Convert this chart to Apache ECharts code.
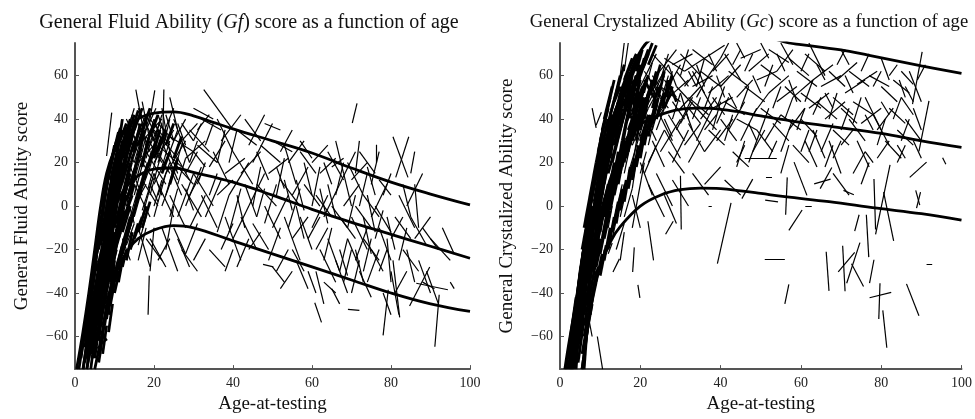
<!DOCTYPE html>
<html>
<head>
<meta charset="utf-8">
<script src="https://cdn.jsdelivr.net/npm/echarts@6/dist/echarts.min.js"></script>
<style>
  html, body { margin: 0; padding: 0; background: #fff; }
  #chart { width: 975px; height: 419px; }
</style>
</head>
<body>
<div id="chart"></div>
<script>
// tick values
const xTicks = [0, 20, 40, 60, 80, 100]
const yTicks = [-60, -40, -20, 0, 20, 40, 60]

// Gf: the three thick curves
const gfUpper = [[0.4,-75],[2,-58],[3.5,-40],[5,-20],[6.5,0],[8,15],[10,26],[12,33],[15,39],[20,42.7],[25,43.3],[30,41.5],[35,38.5],[40,35.5],[50,30],[60,24.4],[70,17.5],[80,11],[90,5.5],[100,0.5]]
const gfMiddle = [[2.1,-75],[4,-50],[6,-28],[7.5,-15],[9,-5],[11,3],[13,9],[16,14],[20,17],[25,17.5],[30,15.5],[40,11],[50,5],[60,-1.5],[70,-7.5],[80,-13],[90,-18.5],[100,-24]]
const gfLower = [[5,-75],[6.7,-60],[8.9,-40],[11,-28],[13.5,-20],[16,-15],[20,-11],[25,-9],[30,-10],[40,-16],[50,-22],[60,-28],[70,-34],[80,-40],[90,-45],[100,-48.5]]

// Gf: childhood segments [age1, score1, age2, score2] (the dense wedge)
const gfChildSegments = [
  [2,-75,5,-40],[3,-75,6,-35],[3.5,-70,6,-45],[4,-75,7,-30],[5,-60,8,-20],[5,-50,8,-10],[5.5,-45,9,0],[6,-62,9,-20],
  [6,-40,9,-5],[6.5,-30,10,5],[6,-20,9,10],[7,-35,10,-5],[7,-25,11,10],[7,-15,10,15],[7.5,-45,10,-15],[8,-30,11,5],
  [8,-20,12,15],[8,-10,12,20],[8.5,-50,10,-25],[9,-35,12,0],[9,-5,13,25],[9,5,12,30],[9.5,-20,13,10],
  [10,-10,14,20],[10,0,14,30],[10,15,13,35],[10.5,-28,14,-5],[11,5,15,30],[11,-15,15,10],[11.5,20,14,38],
  [6.5,-58,8,-62],[7,-55,9,-40],[6,-50,7,-30],[7.5,-30,9,-10],[8,0,10,20],[9,12,11,28],[10.5,22,12,40],
  [1,-75,3,-50],[1.5,-70,4,-40],[2.5,-65,5,-30],[3,-55,5.5,-25],[3.5,-48,6,-15],[4,-40,6.5,-8],[4.5,-35,7,-2],[5,-28,7.5,5],
  [5.5,-22,8,10],[6,-15,8.5,15],[6.5,-8,9,20],[7,0,9.5,22],[7.5,5,10,28],[8,10,10.5,30],[8.5,15,11,34],[9,20,11.5,36],
  [4,-60,6,-38],[4.5,-52,7,-25],[5,-45,7.5,-20],[5.5,-38,8,-12],[6,-32,8.5,-5],[6.5,-25,9,-2],[7,-20,9.5,5],[7.5,-12,10,10],
  [8,-5,10.5,15],[8.5,0,11,18],[9,-12,11.5,10],[9.5,5,12,25],[10,10,12.5,30],[10.5,15,13,33],[11,18,13.5,36],[11.5,25,14,40],
  [6,-48,8,-32],[6.5,-42,9,-22],[7,-38,9.5,-18],[7.5,-35,10,-12],[8,-38,10.5,-20],[8.5,-30,11,-8],
  [9,-28,11.5,-12],[9.5,-25,12,-5],[10,-20,12.5,-2],[10.5,-12,13,5],[11,-8,13.5,12],[11.5,-2,14,15],
  [5,-70,6.5,-50],[3,-75,4.5,-60],[7,-60,8,-45],[8,-52,9.5,-32],[10,-35,11,-30],
  [3,-70,5,-50],[4,-68,6,-48],[5,-65,7,-45],[6,-58,8,-40],[6.5,-50,8.5,-35],[7,-45,9,-30],[7.5,-40,9.5,-25],[8,-35,10,-22],
  [8.5,-28,10.5,-15],[9,-22,11,-10],[9.5,-18,11.5,-5],[10,-15,12,-2],[10.5,-8,12.5,2],[11,-3,13,8],[11.5,2,13.5,12],
  [12,-12,14,0],[12.5,-5,14.5,5],[13,3,15,12],[13.5,5,15.5,18],[14,10,16,22],[5.5,-55,7.5,-35],[6.5,-35,8,-25],
  [7,-30,8.5,-15],[7.5,-22,9,-8],[8,-15,9.5,-2],[8.5,-8,10,5],[9,-2,10.5,10],[9.5,2,11,15],[10,8,11.5,20],[10.5,12,12,25],
  [11,15,12.5,28],[11.5,10,13,22],[12,15,13.5,28],[12.5,18,14,32],[13,22,14.5,35],[13.5,25,15,38],[14,28,15.5,40],
  [15,25,16.5,38],[16,22,17.5,35],[17,18,18.5,30],[4.5,-70,5.5,-58],[3.5,-62,5,-45],
  [8,-45,10,-30],[8.5,-42,10.5,-28],[9,-40,11,-25],[9.5,-38,11.5,-22],[10,-33,12,-18],[10.5,-30,12.5,-15],[11,-27,13,-12],
  [11.5,-25,13.5,-10],[12,-22,14,-8],[12.5,-18,14.5,-5],[13,-15,15,-2],[9,-45,10,-35],[8.5,-58,9.5,-45],[7.5,-55,8.5,-42],
  [7,-68,8,-55],[6,-72,7,-60],[10,-40,11.5,-28],[11,-35,12,-25],[12,-28,13,-20],[13,-25,14.5,-12],[14,-20,16,-8],
  [15,-15,17,-5],[16,-12,18,0],[17,-10,19,2],[14.5,-5,16.5,8],[15.5,2,17.5,15],[16.5,8,18.5,20],[17.5,12,19.5,25],
  [18.5,18,20.5,30],[19.5,22,21.5,35],[13,30,15,42],[14,32,16,44],[15,35,17,45],[16,28,18,40],[17,35,19,45],[18,28,20,38],
  [19,32,21,42],[20,22,22,32],[21,25,23,35],[22,15,24,25],[23,28,25,38],[24,10,26,22],[25,22,27,32],[10,25,12,35],
  [11,28,13,38],[12,22,14,34],[9.5,15,11,25],[8.5,5,10,18],[7.5,-5,9,8],[6.5,-18,8,-5],[5.5,-30,7,-18],[4.5,-45,6,-30],
  [3.5,-58,5,-42],[2.5,-72,4,-55]
]

// Gf: later segments
const gfSegments = [
  [9.3,43,8,23],[5,-63,6,-66],[12,-5,16,25],[12,10,16,35],[12.5,-20,16,5],[13,0,17,28],[13,25,17,45],[13.5,15,18,40],
  [14,-10,18,15],[14,5,18,32],[15,20,19,45],[12,28,14.5,42],[12.5,30,15,45],[12,2,14.5,20],[12.5,8,15,25],
  [13,12,15.5,28],[13.5,-8,16,8],[14,20,16.5,35],[14.5,25,17,38],[15,5,17.5,22],[15.5,12,18,28],[16,32,18.5,42],[16.5,18,19,30],
  [17,-2,19.5,12],[17.5,25,20,40],[18,35,20.5,45],[18.5,8,21,25],[19,28,21.5,38],
  [12,-15,14,-25],[13,-18,15,-8],[16,-18,18,-5],[17,8,19,18],[19,10,21,2],[20,30,22,42],
  [20,0,22,12],[21,20,23,32],[22,25,24,40],[23,5,25,18],[24,-5,26,8],[25,15,27,28],[26,10,28,22],[27,30,29,20],
  [28,8,30,-2],[29,20,31,30],[30,30,32,38],[31,10,33,20],[33,28,35,38],[34,5,36,15],
  [12,30,15,20],[13,22,16,40],[14,35,17,25],[15,15,18,35],[16,38,19,25],[17,20,20,12],[18,42,21,30],[19,18,22,38],
  [20,40,23,25],[21,5,24,20],[22,32,25,45],[23,20,26,35],[24,18,27,5],[25,30,28,40],[26,22,29,12],[27,38,30,30],
  [28,15,31,25],[29,5,32,15],[30,25,33,18],[31,35,34,42],[12,18,14,30],[14,12,16,22],[16,5,18,18],[18,22,20,35],
  [20,15,22,5],[22,18,24,30],[24,25,26,15],[26,38,28,28],[13,5,15,-8],[15,-5,17,8],[17,30,19,42],[19,35,21,25],
  [21,42,23,32],[23,42,25,30],
  [15.4,53.6,17.3,35],[20.2,53.2,18.8,38],[22.5,53.6,22.2,29],[16,45,20,30],[17,30,22,40],[18,25,23,10],[18,15,21,35],
  [19,40,24,28],[19,5,22,25],[20,20,25,35],[20,-5,23,15],[20,35,26,22],[21,10,25,-5],[21,28,27,18],[22,45,24,25],
  [22,0,26,20],[23,15,28,30],[23,-20,25,0],[24,32,30,25],[24,5,28,-10],[25,20,30,10],[25,40,28,25],[26,-5,30,15],
  [26,28,31,38],[27,10,32,-5],[27,-20,31,-30],[28,22,33,30],[28,0,32,18],[29,35,34,25],[29,-10,33,5],[30,15,35,0],
  [30,-25,33,-15],[31,28,36,20],[32,5,36,-10],[32,40,37,35],[33,-5,37,12],[34,18,38,30],[34,-20,38,-28],[35,25,39,10],
  [16,-10,19,-28],[17,-5,20,15],[18,-15,22,-25],[19,-30,20,-10],[15,10,19,-5],[17,48,19,30],[14,30,18,20],[13,40,16,28],
  [24,50,26,35],[21,-25,24,-15],[26,-15,29,-28],[28,-22,31,-8],[32.6,53.6,40,35],[30,45,35,40],[25,-10,28,-22],
  [22,-10,26,-30],[19,-15,23,-28],[16,-25,18,-10],[18.8,-32,18.5,-50],[16,20,20,28],[18,32,22,20],[20,10,24,25],
  [17,12,21,0],[15,30,18,42],[21,38,25,30],[23,25,26,12],[19,22,23,32],[15,0,18,10],[14,18,17,5],[20,28,24,15],
  [36,40,40,25],[37,30,42,42],[38,15,43,22],[38,-5,42,-25],[39,5,44,20],[40,25,45,10],[40,-15,44,0],[41,35,46,28],
  [42,-5,46,-20],[42,15,47,25],[43,40,47,30],[44,0,48,15],[44,-20,47,-12],[45,20,50,38],[45,-8,49,-20],[46,10,51,0],
  [47,28,52,20],[47,-20,50,-22],[48,0,52,-15],[49,15,54,22],[50,30,55,25],[50,-10,54,5],[51,-30,54,-20],[52,12,57,0],
  [53,-5,57,-25],[53,28,56,10],[54,20,58,30],[55,-15,59,-5],[55,5,59,18],[56,-25,59,-38],[57,25,61,15],[57,-5,60,-20],
  [58,10,62,0],[59,-30,61,-40],[47.6,-26.8,50.2,-28],[38,-30,40,-20],[41,-28,44,-15],[36,-12,39,5],[48,38,52,35],
  [44,28,48,42],[50,-28,53,-35],[52,-38,55,-30],[36,5,40,12],[39,20,41,35],[46,-5,48,8],[51,18,53,8],[56,12,58,-2],
  [36,20,38,35],[37,-20,40,-8],[39,-12,42,8],[41,5,43,-10],[43,10,46,-5],[45,0,47,18],[46,25,49,12],[48,-8,51,10],
  [49,-25,52,-10],[51,5,53,22],[52,25,55,35],[54,-10,57,8],[56,0,58,-15],[58,20,60,5],[59,-15,62,-5],[60,0,62,18],
  [61,-20,64,-10],[62,8,64,-8],[63,-25,65,-10],[64,10,66,-5],[66,5,68,20],[67,-30,69,-15],[68,15,70,0],[69,-10,71,5],
  [71,-20,73,-35],[72,0,74,15],[73,-30,75,-15],[74,5,76,-12],[75,10,77,25],[76,-15,78,-2],[77,-30,79,-20],[78,5,80,15],
  [79,-5,81,-20],[80,-15,83,-5],[82,-25,84,-10],[84,-20,86,-35],[85,15,86,25],[55,-20,58,-30],[53,12,55,-2],[57,30,60,22],
  [60,20,64,28],[60,-10,64,5],[61,-30,63,-45],[61,5,65,-5],[62,15,66,22],[62,-20,66,-35],[63,-5,67,10],[64,25,68,12],
  [64,-15,67,-30],[65,0,69,-10],[65,18,68,22],[66,-25,69,-40],[66,30,68,15],[67,-5,71,-15],[67,10,71,25],[68,-35,70,-20],
  [68,0,72,10],[69,-15,72,-28],[69,20,73,5],[70,-40,72,-25],[70,-5,74,-20],[70,12,74,20],[71,-25,74,-10],[71,0,75,-10],
  [72,25,76,15],[72,-30,75,-42],[73,5,77,-5],[73,-15,77,-25],[74,18,76,5],[74,-35,77,-20],[75,-5,79,10],[75,-20,78,-30],
  [76.3,28.2,76.3,19.9],[76,0,80,-12],[77,-10,80,-25],[77,12,80,5],[78,-59.5,79.3,-38.5],[70.2,38.2,71.4,47.2],
  [60.7,-44.5,62.4,-53.5],[69.1,-47.5,72,-48],[63,-35,66,-40],[65,-38,67,-45],[78,-40,80,-50],[79,-15,80,-35],
  [63,20,65,10],[67,-20,69,-32],[71,15,72,30],[73,-5,75,-22],
  [80.5,31.9,84.3,13.2],[84.5,31.9,81.2,13.2],[82.2,-51.2,80.5,-25],[84.7,-46,89.8,-28],[86.4,-35.5,94.4,-38.5],
  [91.1,-64.7,92.2,-40.8],[81,-5,85,-15],[82,5,86,-10],[83,-20,87,-30],[84,0,88,15],[85,-5,89,-18],[86,-15,90,-5],
  [87,-25,90,-40],[88,-10,92,-20],[89,-30,92,-45],[90,-15,95,-25],[81,-40,84,-30],[83,10,85,-5],[86,10,87,-10],
  [88,-35,91,-38],[80,-30,82,-50],[93,-10,96,-22],[95,-35,96,-38]
]

// Gc: the three thick curves
const gcUpper = [[1.2,-75],[2.5,-60],[4.5,-40],[7,-20],[8.5,0],[10.3,20],[13.1,40],[17.2,60],[20.4,72.4],[23,77],[30,80],[40,81],[50,78.5],[57,75],[60,74.3],[70,71.8],[77,69.3],[90,64.5],[100,61]]
const gcMiddle = [[3,-75],[5,-50],[7,-30],[9,-12],[11,3],[13,15],[15,24],[17,31],[20,37.5],[25,42],[30,44.5],[35,45],[40,44.5],[44,43.5],[50,41.5],[60,38.5],[70,36],[80,33.4],[90,30],[100,27]]
const gcLower = [[5.5,-75],[7,-55],[8.6,-37],[10,-28],[12.7,-16],[15,-9.5],[20,0],[25,5],[30,7.5],[35,8.2],[40,8],[45,7],[50,5.8],[56,4.3],[67,2],[79,-1],[90,-3.5],[100,-6.5]]

// Gc: childhood segments (the dense wedge)
const gcChildSegments = [
  [2,-75,5,-40],[2.5,-70,5,-30],[3,-75,6,-25],[3,-60,6,-20],[3.5,-75,6,-40],[4,-55,7,-10],[4,-45,7,-5],[4.5,-65,7,-30],
  [5,-40,8,0],[5,-30,8,5],[5,-50,8,-15],[5.5,-20,9,15],[6,-35,9,5],[6,-60,8,-40],[6,-10,9,20],[6.5,-25,10,15],
  [7,-5,10,25],[7,-45,10,-15],[7.5,-15,11,20],[8,5,11,30],[8,-30,11,0],[8.5,-10,12,25],[9,15,12,40],[9,-20,12,10],
  [9.5,0,13,30],[10,20,13,42],[10,-10,14,20],[10.5,10,14,38],[11,25,15,48],[11,-5,15,25],[12,15,16,42],
  [12,35,16,55],[12.5,0,16,30],[13,20,17,50],[14,30,18,55],[14,10,18,40],[15,38,19,60],
  [16,25,20,50],[16,45,20,60],[17,35,21,55],[5.5,-75,7,-55],[7.5,-50,9,-30],[4,-75,4.8,-55],[6,-75,7,-50],
  [13,45,15,60],[14,52,16,65],[17,50,18,62],[18,48,19,60],[19,45,20,62],
  [1.5,-75,3.5,-50],[2,-68,4,-42],[3,-58,5,-35],[3.5,-50,5.5,-25],[4,-45,6,-20],[4.5,-38,6.5,-12],[5,-32,7,-5],[5.5,-25,7.5,0],
  [6,-18,8,8],[6.5,-12,8.5,12],[7,-8,9,18],[7.5,0,9.5,22],[8,8,10,28],[8.5,12,10.5,32],[9,20,11,38],[9.5,25,11.5,42],
  [10,30,12,45],[10.5,35,12.5,50],[11,40,13,55],[11.5,42,13.5,58],[4,-65,6,-45],[4.5,-55,6.5,-30],[5,-48,7,-25],[5.5,-40,7.5,-18],
  [6,-30,8,-10],[6.5,-35,8.5,-8],[7,-25,9,0],[7.5,-20,9.5,5],[8,-15,10,10],[8.5,-5,10.5,15],[9,0,11,22],[9.5,8,11.5,28],
  [10,5,12,30],[10.5,15,12.5,35],[11,10,13,30],[11.5,22,13.5,40],[12,25,14,45],[12.5,30,14.5,48],[13,35,15,52],[13.5,28,15.5,45],
  [14,38,16,55],[15,45,17,58],[15.5,30,17.5,48],[16,50,18,62],[16.5,38,18.5,52],[17,42,19,58],
  [18,52,20,65],[18.5,40,20.5,55],[19,55,21,68],[6,-55,7.5,-40],[7,-40,8.5,-22],[8,-28,9.5,-12],[9,-18,10.5,-2],[10,-12,11.5,5],
  [11,-5,12.5,12],[12,5,13.5,20],[13,8,14.5,25],[14,15,15.5,30],[15,22,16.5,38],[17,25,18.5,40],
  [19,30,20.5,45],[20,35,21.5,50],[21,40,22.5,55],[20,60,22,70],[22,65,24,74],[19,62,20.5,72],[17,56,19,67],
  [14,40,17,52],[15,50,18,40],[16,55,19,45],[17,60,20,50],[18,55,21,65],[19,48,22,60],[20,42,23,55],[21,58,24,48],
  [2.5,-75,4,-55],[3.5,-68,5,-50],[4.5,-72,6,-52],[5,-60,6.5,-42],[6,-50,7.5,-32],[6.5,-45,8,-28],[7,-35,8.5,-18],
  [7.5,-30,9,-12],[8,-22,9.5,-5],[8.5,-18,10,0],[9,-10,10.5,8],[9.5,-5,11,12],[10,0,11.5,18],[10.5,5,12,22],[11,12,12.5,28],
  [11.5,15,13,32],[12,20,13.5,38],[12.5,22,14,40],[13,28,14.5,45],[13.5,32,15,48],[14,35,15.5,50],[14.5,42,16,55],
  [15,48,16.5,60],[15.5,40,17,52],[16,42,17.5,55],[16.5,48,18,60],[17,45,18.5,58],[17.5,50,19,60],[18,42,19.5,55],
  [18.5,48,20,58],[19,38,20.5,50],[19.5,45,21,55],[20,48,21.5,58],[21,45,22.5,55],[22,50,23.5,58],[23,45,24.5,55],
  [12,0,13.5,15],[13,5,14.5,20],[14,12,15.5,25],[15,15,16.5,30],[16,20,17.5,35],[17,28,18.5,42],[18,30,19.5,42],
  [19,35,20.5,45],[9,-28,10.5,-15],[10,-22,11.5,-8],[11,-15,12.5,-2],
  [9,-35,10.5,-22],[10,-32,11.5,-18],[11,-25,12.5,-10],[12,-20,13.5,-5],[13,-12,14.5,2],[14,-8,15.5,8],[15,-2,16.5,12],
  [16,2,17.5,18],[17,8,18.5,22],[18,12,19.5,28],[19,18,20.5,32],[20,22,21.5,38],[21,28,22.5,42],[22,32,23.5,45],
  [23,38,24.5,50],[8,-40,9.5,-28],[7.5,-48,9,-35],[6.5,-60,8,-45],[5.5,-68,7,-52],[10.5,-15,12,0],[11.5,-8,13,8],
  [12.5,-2,14,12],[13.5,5,15,18],[14.5,10,16,25],[15.5,18,17,32],[16.5,22,18,38],[17.5,28,19,42],[18.5,32,20,45],
  [19.5,38,21,50],[20.5,42,22,52],[21.5,48,23,58],[22.5,52,24,62],[23.5,55,25,65],[24.5,50,26,62],[25.5,45,27,58],
  [26.5,50,28,60],[27.5,55,29,48],[15,52,17,62],[16,58,18,68],[17,62,19,70],[18,60,20,70],[20,62,22,72],[21,65,23,75],
  [13.5,48,15,55],[12.5,42,14,52],[11.5,35,13,45],[10.5,28,12,40],[9.5,18,11,32],[8.5,2,10,18],[7.5,-10,9,5],
  [6.5,-22,8,-8],[5.5,-35,7,-20],[4.5,-48,6,-32],[3.5,-60,5,-45],[2.5,-75,3.8,-58],[20,30,22,42],[22,35,24,48],
  [24,40,26,52],[26,45,28,55]
]

// Gc: later segments
const gcSegments = [
  [9.3,-60,10.6,-75],[8,45,9,36],[15,-25,16,-12],[12,-22,13,-17],[11.5,-20,15,5],[13,-15,16,10],[15,-5,18,20],
  [17,15,21,40],[18,-10,21,20],[18,28,22,45],[15,60,16,75],[16,62,17,75],[17,40,20,48],[18,38,21,30],[16,30,19,38],
  [14.5,20,16.5,38],[17.5,30,19.5,45],[7,-50,8,-60],[10,-30,11,-20],[12,-10,13,0],[14,-2,15.5,10],[16,5,17.5,15],
  [18,8,19,20],[20,15,21.5,25],[22,28,23.5,40],[23,35,25,48],[16,15,17.5,28],[18,18,19.5,35],
  [24,50,26,60],[25,58,27,70],
  [22,45,25,55],[23,60,26,52],[24,52,27,45],[25,42,28,52],[26,58,29,50],[27,55,30,65],[28,48,31,40],[29,62,32,55],
  [30,38,33,48],[31,55,34,62],[32,45,35,38],[33,62,36,52],[34,50,37,60],[35,55,38,45],[36,35,39,42],[37,60,40,68],
  [38,50,41,42],[39,38,42,50],[16,35,18,45],[18,30,20,40],[20,28,22,40],[22,38,24,30],[24,35,26,45],[26,40,28,32],
  [20,55,24,70],[20,40,25,58],[21,62,26,48],[21,30,25,45],[22,50,27,65],[22,20,26,35],[23,70,28,60],[23,38,28,52],
  [24,45,28,30],[24,60,29,72],[25,25,30,40],[25,55,30,48],[26,68,31,62],[26,35,30,22],[27,50,32,58],[27,42,31,30],
  [28,65,33,70],[28,20,32,35],[29,55,34,45],[29,35,33,50],[30,70,35,60],[30,45,35,55],[31,28,35,38],[31,62,36,68],
  [32,50,37,42],[32,38,36,25],[33,72,38,65],[33,55,38,60],[34,30,38,45],[34,45,39,35],[35,62,40,55],[35,40,39,50],
  [36,68,41,74],[36,25,40,35],[37,52,42,60],[37,35,41,28],[38,45,43,50],[38,62,42,70],[39,30,43,40],[40,55,45,65],
  [40,40,44,30],[41,70,45,58],[41,48,46,42],[42,35,46,48],[42,62,47,55],[43,25,47,18],[44,50,48,58],[44,40,49,35],
  [45,68,50,72],[45,30,49,45],[46,55,51,48],[47,20,50,35],[47,62,52,70],[48,42,52,52],[49,35,53,25],[49,58,54,62],
  [50,45,55,38],[50,65,55,58],[51,30,55,42],[52,52,57,60],[52,72,57,66],[53,38,57,30],[54,48,59,55],[54,62,58,72],
  [55,25,58,40],[55,42,60,35],[56,55,60,48],[57,68,62,60],[57,35,61,45],[58,50,63,58],[58,28,62,20],[59,62,64,55],
  [60,40,64,32],[60,52,65,45],[61,30,64,18],[61,70,66,62],[62,45,67,52],[63,35,66,22],[63,58,68,65],[64,48,69,40],
  [65,25,68,38],[65,55,70,60],[66,40,71,48],[67,62,71,55],[67,30,70,15],[68,50,73,42],[68,35,72,28],[69,58,74,66],
  [70,45,74,38],[70,28,73,35],[71,52,76,58],[72,40,76,30],[72,62,77,55],[73,48,78,42],[74,30,77,18],[74,56,79,62],
  [75,38,80,45],[76,50,80,35],[77,60,82,55],[78,42,82,28],[79,35,83,45],[80,55,84,48],[81,30,85,22],[82,45,86,38],
  [83,58,87,52],[84,35,88,28],[85,50,88,42],[86,40,90,30],[87,62,90,48],[88,30,90,22],[90.2,70.9,87.8,46.9],
  [91.9,48.4,89.4,25.2],[62,75,66,60],[55,75,58,65],[70,72,72,65],[44,75,46,68],[50,75,52,68],[80,68,82,58],
  [85,62,88,56],[84.5,58,86,50],[20,48,22,38],[22,60,24,50],[26,50,28,62],[30,52,32,40],[34,65,36,55],[39,45,41,55],
  [21,52,23,66],[23,55,25,42],[25,48,27,60],[27,65,29,55],[28,40,30,52],[30,60,32,72],[31,45,33,35],[32,62,34,55],
  [33,40,35,50],[34,55,36,68],[36,45,38,55],[37,70,39,62],[38,35,40,48],[39,60,41,50],[40,68,42,75],[41,30,43,42],
  [42,52,44,45],[43,65,45,72],[45,45,47,55],[46,62,48,70],[47,38,49,30],[48,60,50,52],[50,35,52,45],[51,55,53,65],
  [53,45,55,55],[54,70,56,62],[56,40,58,50],[57,58,59,48],[59,35,61,45],[60,62,62,70],[61,48,63,58],[63,42,65,50],
  [64,65,66,58],[66,52,68,45],[67,40,69,52],[69,65,71,72],[70,35,72,45],[71,60,73,52],[73,38,75,50],[75,62,77,70],
  [76,42,78,35],[78,55,80,62],[79,28,81,40],[80,48,82,42],[82,60,84,65],[83,40,85,50],[85,30,87,40],[86,55,88,48],
  [88,45,90,35],[89,58,91,65],[44,20,46,28],[52,22,54,30],[60,25,62,35],[68,22,70,30],[76,25,78,20],[84,28,86,22],
  [22,10,26,-5],[24,15,28,0],[26,5,29,-8],[28,12,32,0],[30.2,-10.8,30,13.9],[23.3,-25,21.9,-7],[26.3,-13,28.2,-7],
  [33,15,37,5],[36,10,40,18],[41,12,45,5],[39.2,-26.5,42.6,1.5],[37,0,37.8,0],[46,22,54,22],[51.1,2.7,54.3,1.9],
  [51.3,13.2,52.8,13.2],[56.6,13.2,56.2,-4],[60.3,-1.8,57,-11.2],[58.3,20.2,61.5,4.9],[64.8,8,67.7,17.7],
  [63.3,10.2,67.4,12.4],[70.6,7.2,73.2,5.2],[61.1,0.1,62.7,0.1],[45.3,3.4,48,12.4],[51,-24.3,56,-24.3],[57,-36,56,-45],
  [66.3,-21,67,-39],[70.4,-18.3,71,-39.2],[69.3,-30.3,73.4,-21.3],[72.6,-26.5,75.6,-37],[71.4,-35.5,74.7,-16.8],
  [77.1,-35.5,78.2,-24.7],[76.3,-4,76.9,-23.5],[73.4,-11.5,74.5,-4],[77.1,-42.2,82.5,-39.7],[79.7,-35.5,79.4,-52],
  [80.4,-48,81.4,-65.2],[86.3,-35.8,89.4,-50.5],[91.3,-26.9,92.7,-26.9],[82.2,18.9,78.6,-13],[80.6,6.4,83.1,-16],
  [78.2,12.4,78.6,-10.8],[88.6,7.2,89.6,0.4],[87.1,13.2,91.3,20.2],[95.3,22.2,96.1,19.2],[88.8,-1,89.8,6.4],
  [19.4,-36.3,19.9,-42.2],[13.2,-30.3,14.8,-24.3],[18.1,-30.3,18.5,-19],[10.3,43.1,9,37.2],[75,10,77,20],[68,15,72,5],
  [20,20,23,5],[21,15,24,28],[18,5,20,-10],[23,30,26,18],[27,25,31,15],[32,20,35,30],[44,18,46,30],[48,25,51,35],
  [62,25,64,35],[66,18,68,28],[73,15,76,25],[79,22,82,30],[84,20,86,28],[55,15,57,28],[14,-20,16,-8],[16,-5,18,8]
]

const serif = '"Liberation Serif", "DejaVu Serif", serif'
const minus = v => String(v).replace('-', '\u2212')

function segs(arr) {
  return arr.map(s => ({ coords: [[s[0], s[1]], [s[2], s[3]]] }))
}

function segSeries(arr, idx, width) {
  return {
    type: 'lines',
    coordinateSystem: 'cartesian2d',
    xAxisIndex: idx,
    yAxisIndex: idx,
    clip: true,
    data: segs(arr),
    lineStyle: { color: '#000', width: width, opacity: 1, curveness: 0 }
  }
}

function curve(data, idx) {
  return {
    type: 'line',
    xAxisIndex: idx,
    yAxisIndex: idx,
    data: data,
    smooth: 0.4,
    showSymbol: false,
    clip: true,
    z: 5,
    lineStyle: { color: '#000', width: 2.8 }
  }
}

function xAxisFor(idx) {
  return {
    type: 'value',
    gridIndex: idx,
    min: 0,
    max: 100,
    interval: 20,
    name: 'Age-at-testing',
    nameLocation: 'middle',
    nameGap: 20,
    nameTextStyle: { fontFamily: serif, fontSize: 19, color: '#111' },
    axisLine: { show: true, onZero: false, lineStyle: { color: '#555', width: 2 } },
    axisTick: { show: true, inside: true, length: 4, lineStyle: { color: '#555' } },
    axisLabel: { fontFamily: serif, fontSize: 14, color: '#222', margin: 7 },
    splitLine: { show: false }
  }
}

function yAxisFor(idx, name) {
  return {
    type: 'value',
    gridIndex: idx,
    min: -75,
    max: 75,
    name: name,
    nameLocation: 'middle',
    nameGap: 43,
    nameTextStyle: { fontFamily: serif, fontSize: 19, color: '#111' },
    axisLine: { show: true, onZero: false, lineStyle: { color: '#555', width: 2 } },
    axisTick: { show: true, inside: true, length: 4, customValues: yTicks, lineStyle: { color: '#555' } },
    axisLabel: { fontFamily: serif, fontSize: 14, color: '#222', margin: 7, customValues: yTicks, formatter: minus },
    splitLine: { show: false }
  }
}

function titleFor(text, center, size) {
  return {
    text: text,
    left: center,
    textAlign: 'center',
    top: 8,
    textStyle: {
      fontFamily: serif, fontSize: size, fontWeight: 'normal', color: '#111',
      rich: { i: { fontFamily: serif, fontSize: size, fontStyle: 'italic', color: '#111' } }
    }
  }
}

const chart = echarts.init(document.getElementById('chart'), null, { renderer: 'canvas' })

chart.setOption({
  animation: false,
  backgroundColor: '#fff',
  title: [
    titleFor('General Fluid Ability ({i|Gf}) score as a function of age', 244, 20),
    titleFor('General Crystalized Ability ({i|Gc}) score as a function of age', 744, 18.6)
  ],
  grid: [
    { left: 75, right: 505, top: 43, bottom: 41 },
    { left: 560, right: 9, top: 43, bottom: 41 }
  ],
  xAxis: [xAxisFor(0), xAxisFor(1)],
  yAxis: [yAxisFor(0, 'General Fluid Ability score'), yAxisFor(1, 'General Crystalized Ability score')],
  series: [
    segSeries(gfChildSegments, 0, 2.8),
    segSeries(gfSegments, 0, 1.2),
    curve(gfUpper, 0),
    curve(gfMiddle, 0),
    curve(gfLower, 0),
    segSeries(gcChildSegments, 1, 2.8),
    segSeries(gcSegments, 1, 1.2),
    curve(gcUpper, 1),
    curve(gcMiddle, 1),
    curve(gcLower, 1)
  ]
})
</script>
</body>
</html>
